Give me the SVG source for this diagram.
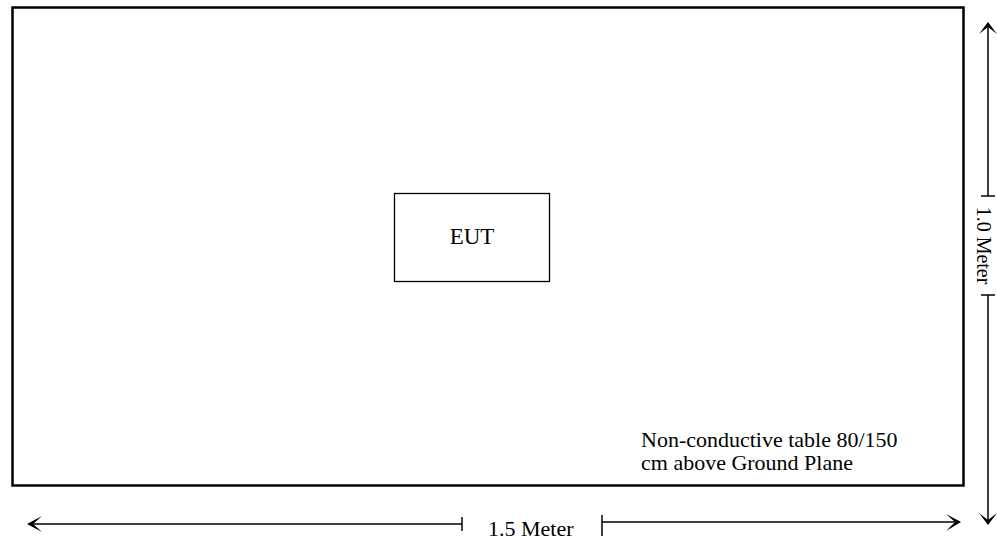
<svg xmlns="http://www.w3.org/2000/svg" width="997" height="546" viewBox="0 0 997 546">
<style>
.t{font-family:"Liberation Serif","Times New Roman",serif;fill:#000;font-size:22px}
.ln{stroke:#000;stroke-width:1.5;fill:none}
.ah{fill:#000;stroke:none}
</style>
<rect width="997" height="546" fill="#fff"/>
<g id="table">
<rect x="12.5" y="7.5" width="951" height="478" fill="none" stroke="#000" stroke-width="2.5"/>
<text class="t" x="641" y="447">Non-conductive table 80/150</text>
<text class="t" x="641" y="470">cm above Ground Plane</text>
</g>
<g id="eut">
<rect x="394.5" y="193.5" width="155" height="88" fill="none" stroke="#000" stroke-width="1.3"/>
<text class="t" x="472" y="244" text-anchor="middle" style="font-size:23px">EUT</text>
</g>
<g id="connectors">
<line class="ln" x1="988" y1="24" x2="988" y2="196"/>
<line class="ln" x1="981" y1="196" x2="995" y2="196"/>
<line class="ln" x1="988" y1="295" x2="988" y2="522"/>
<line class="ln" x1="981" y1="295" x2="995" y2="295"/>
<path class="ah" d="M988,22 L979,34 L988,27 L997,34 Z"/>
<path class="ah" d="M988,525 L979,513 L988,520 L997,513 Z"/>
<line class="ln" x1="30" y1="524" x2="462" y2="524"/>
<line class="ln" x1="462" y1="517" x2="462" y2="531"/>
<line class="ln" x1="602" y1="522" x2="958" y2="522"/>
<line class="ln" x1="602" y1="515" x2="602" y2="536"/>
<path class="ah" d="M27,524 L42,516 L33,524 L42,532 Z"/>
<path class="ah" d="M961,522 L946,514 L955,522 L946,531 Z"/>
</g>
<text class="t" x="488" y="536">1.5 Meter</text>
<text class="t" transform="translate(977,245.5) rotate(90)" text-anchor="middle" style="font-size:20px">1.0 Meter</text>
</svg>
